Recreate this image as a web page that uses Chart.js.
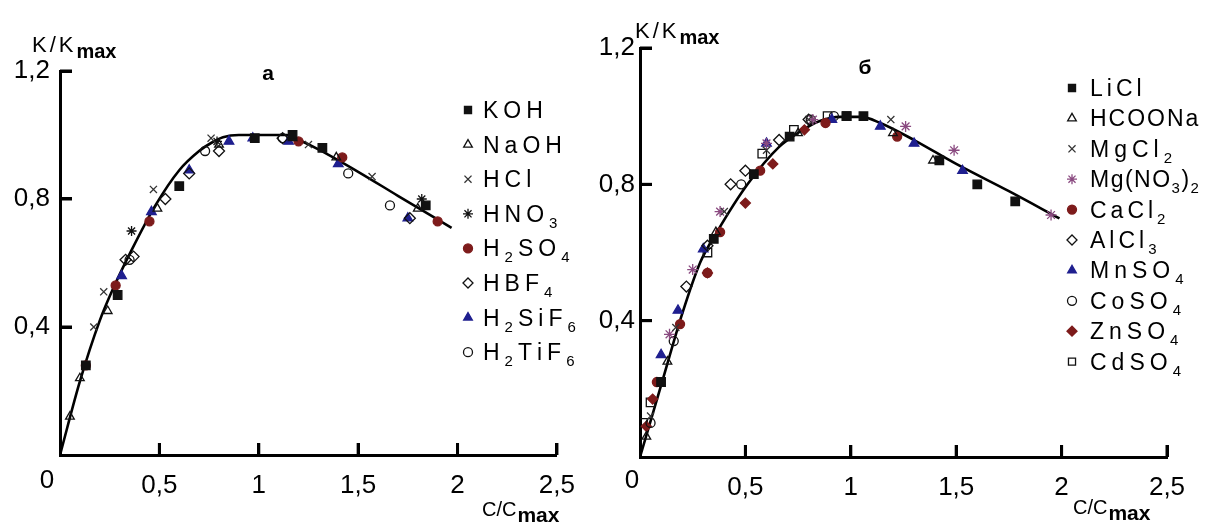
<!DOCTYPE html>
<html><head><meta charset="utf-8">
<script src="https://cdn.jsdelivr.net/npm/chart.js@4.4.1/dist/chart.umd.min.js"></script>
<style>
html,body{margin:0;padding:0;background:#fff;width:1208px;height:524px;overflow:hidden}
#wa{position:absolute;left:0;top:0;width:590px;height:524px}
#wb{position:absolute;left:590px;top:0;width:618px;height:524px}
canvas{display:block}
.tk{position:absolute;background:#000;pointer-events:none}
</style></head><body>
<div id="wa"><canvas id="ca" width="590" height="524"></canvas></div>
<div id="wb"><canvas id="cb" width="618" height="524"></canvas></div>
<script>
// ---------- tick labels ----------
const xTicks = [0, 0.5, 1, 1.5, 2, 2.5];
const xTickLabels = ['0', '0,5', '1', '1,5', '2', '2,5'];
const yTicks = [0, 0.4, 0.8, 1.2];
const yTickLabels = ['0', '0,4', '0,8', '1,2'];
const panelLabels = ['а', 'б'];
const yTitle = ['K/K', 'max'];
const xTitle = ['C/C', 'max'];

// ---------- panel a: series ----------
const seriesA = ['KOH', 'NaOH', 'HCl', 'HNO_3', 'H_2SO_4', 'HBF_4', 'H_2SiF_6', 'H_2TiF_6'];
const KOH     = [[0.13,0.28],[0.29,0.50],[0.60,0.84],[0.98,0.99],[1.17,1.00],[1.32,0.96],[1.84,0.78]];
const NaOH    = [[0.05,0.12],[0.10,0.24],[0.24,0.45],[0.49,0.77],[0.80,0.97],[1.17,0.99],[1.39,0.93],[1.80,0.77]];
const HCl     = [[0.17,0.40],[0.22,0.51],[0.47,0.83],[0.76,0.99],[1.25,0.97],[1.57,0.87]];
const HNO3    = [[0.36,0.70],[0.79,0.98],[1.82,0.80]];
const H2SO4   = [[0.13,0.28],[0.28,0.53],[0.45,0.73],[1.20,0.98],[1.42,0.93],[1.90,0.73]];
const HBF4    = [[0.33,0.61],[0.37,0.62],[0.53,0.80],[0.65,0.88],[0.80,0.95],[1.12,0.99],[1.76,0.74]];
const H2SiF6  = [[0.31,0.56],[0.46,0.76],[0.65,0.89],[0.85,0.98],[0.97,0.99],[1.15,0.98],[1.40,0.91],[1.75,0.74]];
const H2TiF6  = [[0.35,0.61],[0.73,0.95],[1.12,0.99],[1.45,0.88],[1.66,0.78]];
const curveA  = [[0,0],[0.10,0.23],[0.20,0.42],[0.26,0.51],[0.36,0.64],[0.48,0.78],[0.60,0.89],[0.70,0.95],[0.76,0.975],[0.82,0.993],[0.90,1.0],[1.14,1.0],[1.20,0.985],[1.30,0.955],[1.50,0.885],[1.70,0.81],[1.97,0.71]];

// ---------- panel б: series ----------
const seriesB = ['LiCl', 'HCOONa', 'MgCl_2', 'Mg(NO_3)_2', 'CaCl_2', 'AlCl_3', 'MnSO_4', 'CoSO_4', 'ZnSO_4', 'CdSO_4'];
const LiCl    = [[0.10,0.22],[0.35,0.64],[0.54,0.83],[0.71,0.94],[0.98,1.00],[1.06,1.00],[1.42,0.87],[1.60,0.80],[1.78,0.75]];
const HCOONa  = [[0.03,0.06],[0.13,0.28],[0.36,0.66],[0.75,0.95],[1.20,0.95],[1.39,0.87]];
const MgCl2   = [[0.05,0.12],[0.17,0.38],[0.40,0.72],[0.60,0.90],[0.80,0.99],[1.19,0.99]];
const MgNO32  = [[0.14,0.36],[0.25,0.55],[0.38,0.72],[0.60,0.92],[0.82,0.99],[1.26,0.97],[1.49,0.90],[1.95,0.71]];
const CaCl2   = [[0.08,0.22],[0.19,0.39],[0.32,0.54],[0.38,0.66],[0.57,0.84],[0.88,0.98],[1.22,0.94]];
const AlCl3   = [[0.22,0.50],[0.32,0.62],[0.43,0.80],[0.50,0.84],[0.66,0.93],[0.80,0.99]];
const MnSO4   = [[0.10,0.30],[0.18,0.43],[0.30,0.61],[0.60,0.92],[0.91,0.99],[1.14,0.97],[1.30,0.92],[1.53,0.84]];
const CoSO4   = [[0.05,0.10],[0.16,0.34],[0.48,0.80],[0.81,0.99],[0.92,1.00]];
const ZnSO4   = [[0.03,0.09],[0.06,0.17],[0.32,0.54],[0.50,0.745],[0.63,0.86],[0.78,0.96]];
const CdSO4   = [[0.015,0.10],[0.05,0.16],[0.32,0.60],[0.58,0.89],[0.73,0.96],[0.89,1.00],[0.98,1.00]];
const curveB  = [[0,0],[0.10,0.21],[0.20,0.42],[0.285,0.57],[0.365,0.66],[0.51,0.80],[0.66,0.91],[0.76,0.955],[0.85,0.985],[0.95,0.998],[1.05,0.998],[1.14,0.98],[1.30,0.93],[1.50,0.86],[1.75,0.78],[1.99,0.70]];

// ---------- styles ----------
const BLACK = '#111', RED = '#7d1b1b', BLUE = '#1f1f8f', PURPLE = '#8a4a80', GREY = '#333', NONE = 'rgba(255,255,255,0)';
const FAM = '"Liberation Sans", Arial, sans-serif';
const styleA = [
  {ps:'rect', r:6, fill:BLACK, stroke:BLACK},
  {ps:'triangle', r:5, fill:NONE, stroke:BLACK},
  {ps:'crossRot', r:5, fill:NONE, stroke:GREY},
  {ps:'star', r:5, fill:NONE, stroke:BLACK},
  {ps:'circle', r:4.5, fill:RED, stroke:RED},
  {ps:'rectRot', r:5.5, fill:NONE, stroke:BLACK},
  {ps:'triangle', r:5.5, fill:BLUE, stroke:BLUE},
  {ps:'circle', r:4.5, fill:NONE, stroke:BLACK}
];
const styleB = [
  {ps:'rect', r:6, fill:BLACK, stroke:BLACK},
  {ps:'triangle', r:5, fill:NONE, stroke:BLACK},
  {ps:'crossRot', r:5, fill:NONE, stroke:GREY},
  {ps:'star', r:5.5, fill:NONE, stroke:PURPLE},
  {ps:'circle', r:4.5, fill:RED, stroke:RED},
  {ps:'rectRot', r:5.5, fill:NONE, stroke:BLACK},
  {ps:'triangle', r:5.5, fill:BLUE, stroke:BLUE},
  {ps:'circle', r:4.5, fill:NONE, stroke:BLACK},
  {ps:'rectRot', r:5, fill:RED, stroke:RED},
  {ps:'rect', r:6, fill:NONE, stroke:BLACK}
];
const spacingB = [4, 2, 5, 1.5, 4, 4, 5, 5, 5, 5];

function richText(ctx, str, x, y, size, subSize, subDy, spacing, bold) {
  ctx.save();
  ctx.textBaseline = 'alphabetic';
  ctx.textAlign = 'left';
  ctx.fillStyle = '#000';
  let cx = x;
  for (let i = 0; i < str.length; i++) {
    let ch = str[i], sub = false;
    if (ch === '_') { sub = true; ch = str[++i]; }
    ctx.font = (bold ? 'bold ' : '') + (sub ? subSize : size) + 'px ' + FAM;
    ctx.fillText(ch, cx, sub ? y + subDy : y);
    cx += ctx.measureText(ch).width + spacing;
  }
  ctx.restore();
  return cx;
}

// inward tick marks, placed through the chart's own scales
const inwardTicks = {
  id: 'inwardTicks',
  afterDraw(chart) {
    const ctx = chart.ctx, xs = chart.scales.x, ys = chart.scales.y;
    const L = xs.getPixelForValue(0), B = ys.getPixelForValue(0);
    ctx.save();
    ctx.setTransform(1, 0, 0, 1, 0, 0);
    ctx.globalAlpha = 1;
    ctx.globalCompositeOperation = 'source-over';
    ctx.fillStyle = '#000';
    for (let k = 1; k < xTicks.length; k++) {
      const px = xs.getPixelForValue(xTicks[k]);
      ctx.fillRect(px - 1.5, B - 12, 3, 12);
    }
    for (let k = 1; k < yTicks.length; k++) {
      const py = ys.getPixelForValue(yTicks[k]);
      ctx.fillRect(L, py - 1.5, 12, 3);
    }
    ctx.restore();
  }
};

function addDomTicks(chart, wrap) {
  const xs = chart.scales.x, ys = chart.scales.y;
  const L = xs.getPixelForValue(0), B = ys.getPixelForValue(0);
  const mk = (l, t, w, h) => {
    const d = document.createElement('div');
    d.className = 'tk';
    d.style.left = l + 'px'; d.style.top = t + 'px';
    d.style.width = w + 'px'; d.style.height = h + 'px';
    wrap.appendChild(d);
  };
  for (let k = 1; k < xTicks.length; k++) mk(Math.round(xs.getPixelForValue(xTicks[k]) - 1.5), Math.round(B - 12), 3, 12);
  for (let k = 1; k < yTicks.length; k++) mk(Math.round(L), Math.round(ys.getPixelForValue(yTicks[k]) - 1.5), 12, 3);
}

function makeChart(canvas, cfg) {
  const W = canvas.width, H = canvas.height, A = cfg.area;
  const datasets = cfg.series.map((arr, i) => ({
    label: cfg.names[i],
    data: arr.map(p => ({x: p[0], y: p[1]})),
    pointStyle: cfg.styles[i].ps,
    pointRadius: cfg.styles[i].r,
    backgroundColor: cfg.styles[i].fill,
    borderColor: cfg.styles[i].stroke,
    pointBorderWidth: 1.3,
    showLine: false,
    order: 1
  }));
  datasets.push({
    label: 'fit',
    data: cfg.curve.map(p => ({x: p[0], y: p[1]})),
    showLine: true, borderColor: '#000', borderWidth: 2.6, pointRadius: 0,
    cubicInterpolationMode: 'monotone', fill: false, order: 2
  });

  const decor = {
    id: 'decor',
    afterDraw(chart) {
      const ctx = chart.ctx, xs = chart.scales.x, ys = chart.scales.y;
      const L = xs.getPixelForValue(0);
      const B = ys.getPixelForValue(0);
      ctx.save();
      ctx.fillStyle = '#000';
      ctx.font = '26px ' + FAM;
      ctx.textAlign = 'center'; ctx.textBaseline = 'middle';
      ctx.fillText(xTickLabels[0], L + cfg.zero[0], B + cfg.zero[1]);
      ctx.font = 'bold 21px ' + FAM;
      ctx.fillText(cfg.panel, cfg.panelPos[0], cfg.panelPos[1]);
      ctx.restore();
      let e = richText(ctx, yTitle[0], cfg.yt[0], cfg.yt[1], 22, 22, 0, 3, false);
      richText(ctx, yTitle[1], e, cfg.yt[1] + 6, 20, 20, 0, 0, true);
      e = richText(ctx, xTitle[0], cfg.xt[0], cfg.xt[1], 20, 20, 0, 0, false);
      richText(ctx, xTitle[1], e + 1, cfg.xt[1] + 6, 21, 21, 0, 0, true);
      chart.data.datasets.forEach((ds, i) => {
        if (i >= cfg.names.length) return;
        const cy = cfg.leg.y0 + i * cfg.leg.dy;
        ctx.save();
        ctx.fillStyle = ds.backgroundColor; ctx.strokeStyle = ds.borderColor; ctx.lineWidth = 1.3;
        Chart.helpers.drawPoint(ctx, {pointStyle: ds.pointStyle, radius: Math.min(ds.pointRadius, 5), rotation: 0, borderWidth: 1.3}, cfg.leg.mx, cy);
        ctx.restore();
        richText(ctx, cfg.names[i], cfg.leg.tx, cy + 8, 23, 15, 6, cfg.leg.sp[i], false);
      });
    }
  };

  const chart = new Chart(canvas, {
    type: 'scatter',
    data: {datasets},
    options: {
      responsive: false, animation: false, devicePixelRatio: 1,
      layout: {padding: {left: 0, top: A.top, right: W - A.right, bottom: 0}},
      plugins: {legend: {display: false}, tooltip: {enabled: false}},
      scales: {
        x: {
          type: 'linear', position: 'bottom', min: 0, max: 2.5,
          afterBuildTicks: s => { s.ticks = xTicks.map(v => ({value: v})); },
          afterFit: s => { s.height = H - A.bottom; },
          border: {display: true, color: '#000', width: 3},
          grid: {drawOnChartArea: false, drawTicks: false},
          ticks: {padding: cfg.xPad, color: '#000', autoSkip: false, maxRotation: 0,
            font: {family: FAM, size: 26},
            callback: (v, i) => i === 0 ? '' : xTickLabels[i]}
        },
        y: {
          type: 'linear', position: 'left', min: 0, max: 1.2,
          afterBuildTicks: s => { s.ticks = yTicks.map(v => ({value: v})); },
          afterFit: s => { s.width = A.left; },
          border: {display: true, color: '#000', width: 3},
          grid: {drawOnChartArea: false, drawTicks: false},
          ticks: {padding: cfg.yPad, color: '#000', autoSkip: false,
            font: {family: FAM, size: 26},
            callback: (v, i) => i === 0 ? '' : yTickLabels[i]}
        }
      }
    },
    plugins: [inwardTicks, decor]
  });
  addDomTicks(chart, canvas.parentNode);
  return chart;
}

makeChart(document.getElementById('ca'), {
  area: {left: 60, top: 71, right: 563, bottom: 455},
  series: [KOH, NaOH, HCl, HNO3, H2SO4, HBF4, H2SiF6, H2TiF6],
  names: seriesA, styles: styleA, curve: curveA,
  xPad: 15, yPad: 10, zero: [-13, 26],
  panel: panelLabels[0], panelPos: [268, 74],
  yt: [32, 52], xt: [482, 516],
  leg: {mx: 468, tx: 483, y0: 110, dy: 34.6, sp: [5,5,5,5,5,5,5,5]}
});
makeChart(document.getElementById('cb'), {
  area: {left: 50, top: 48, right: 577, bottom: 457},
  series: [LiCl, HCOONa, MgCl2, MgNO32, CaCl2, AlCl3, MnSO4, CoSO4, ZnSO4, CdSO4],
  names: seriesB, styles: styleB, curve: curveB,
  xPad: 15, yPad: 5, zero: [-8, 24],
  panel: panelLabels[1], panelPos: [275, 68],
  yt: [45, 38], xt: [483, 514],
  leg: {mx: 482, tx: 500, y0: 88, dy: 30.4, sp: spacingB}
});
</script>
</body></html>
